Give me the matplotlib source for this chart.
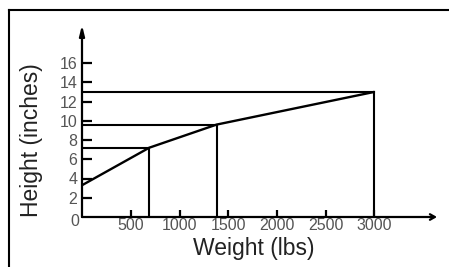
import matplotlib
matplotlib.use("Agg")
import matplotlib.pyplot as plt
from matplotlib.lines import Line2D

# ============================================================
# DATA
# ============================================================

weight = [0, 690, 1380, 3000]
height = [3.3, 7.2, 9.6, 13.0]

x_ticks = [500, 1000, 1500, 2000, 2500, 3000]
y_ticks = [2, 4, 6, 8, 10, 12, 14, 16]

x_label = "Weight (lbs)"
y_label = "Height (inches)"

# ============================================================
# FIGURE
# ============================================================

W, H = 449, 267
fig = plt.figure(figsize=(W / 100, H / 100), dpi=100)
plt.rcParams["font.family"] = ["Liberation Sans", "DejaVu Sans"]

ax = fig.add_axes([82 / W, (H - 217) / H, (437 - 82) / W, (217 - 25) / H])
ax.set_xlim(0, 355 / 0.0975)
ax.set_ylim(0, 192 / 9.625)

for s in ax.spines.values():
    s.set_visible(False)

# axes with arrow heads
ax.annotate("", xy=(1, 0), xytext=(0, 0), xycoords="axes fraction",
            textcoords="axes fraction",
            arrowprops=dict(arrowstyle="->,head_length=0.35,head_width=0.2",
                            lw=1.6, color="black", shrinkA=0, shrinkB=0))
ax.annotate("", xy=(0, 1), xytext=(0, 0), xycoords="axes fraction",
            textcoords="axes fraction",
            arrowprops=dict(arrowstyle="-|>,head_length=0.6,head_width=0.15",
                            lw=1.6, color="black", shrinkA=0, shrinkB=0))

# curve
ax.plot(weight, height, color="black", lw=1.7, solid_capstyle="butt")

# guide lines for the marked points
for wx, hy in zip(weight[1:], height[1:]):
    ax.plot([0, wx], [hy, hy], color="black", lw=1.5)
    ax.plot([wx, wx], [0, hy], color="black", lw=1.5)

ax.set_xticks(x_ticks)
ax.set_xticklabels([str(v) for v in x_ticks])
ax.set_yticks(y_ticks)
ax.set_yticklabels([str(v) for v in y_ticks])
ax.tick_params(axis="x", direction="in", length=5, width=1.6,
               pad=1.0, labelsize=11.5, labelcolor="#555555")
ax.tick_params(axis="y", direction="in", length=7, width=1.6,
               pad=3.5, labelsize=11.5, labelcolor="#555555")

ax.annotate("0", xy=(0, 0), xytext=(-5, -3.5), textcoords="offset points",
            ha="center", va="center", fontsize=11.5, color="#555555")

fig.text(254 / W, 1 - 249 / H, x_label, ha="center", va="center",
         fontsize=16.5, color="#222222")
fig.text(32 / W, 1 - 140 / H, y_label, ha="center", va="center",
         rotation=90, fontsize=16.5, color="#222222")

# frame (top and left edges only)
fig.add_artist(Line2D([9 / W, 1], [1 - 10 / H, 1 - 10 / H],
                      color="black", lw=1.5))
fig.add_artist(Line2D([9 / W, 9 / W], [0, 1 - 10 / H],
                      color="black", lw=1.5))

fig.savefig("out.png", dpi=100)
